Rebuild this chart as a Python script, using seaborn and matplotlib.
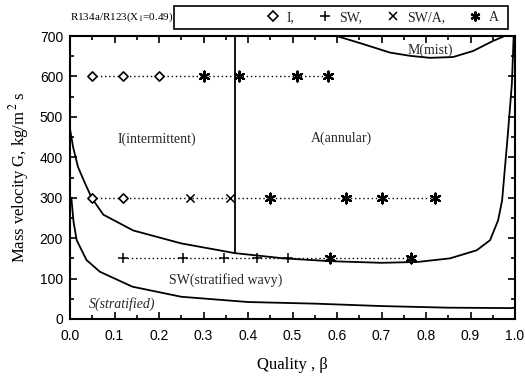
import numpy as np
import pandas as pd
import matplotlib
matplotlib.use("Agg")
import matplotlib.pyplot as plt
from matplotlib.lines import Line2D
from matplotlib.patches import Rectangle
from matplotlib.ticker import MultipleLocator
import seaborn as sns

# ---- boundary curves ----
upper_x = [0.0, 0.007, 0.018, 0.034, 0.049, 0.075, 0.142, 0.25, 0.37, 0.48, 0.585,
           0.70, 0.78, 0.854, 0.914, 0.944, 0.962, 0.971, 0.984, 0.993, 0.997]
upper_g = [470, 425, 376, 335, 299, 258, 219, 187, 163, 150, 143,
           139, 141, 150, 170, 195, 244, 293, 458, 582, 700]

lower_x = [0.003, 0.008, 0.015, 0.037, 0.067, 0.14, 0.25, 0.40, 0.55, 0.70, 0.85, 0.99, 1.0]
lower_g = [300, 240, 195, 146, 117, 80, 55, 42, 38, 32, 28, 27, 28]

mist_x = [0.599, 0.659, 0.719, 0.764, 0.809, 0.861, 0.906, 0.951, 0.977]
mist_g = [700, 680, 659, 651, 646, 648, 663, 688, 700]

divider_x = [0.37, 0.37]
divider_g = [163, 700]

# ---- observed flow patterns ----
g600_x = [0.05, 0.12, 0.20, 0.30, 0.38, 0.51, 0.58]
g600_regime = ["I", "I", "I", "A", "A", "A", "A"]
g300_x = [0.05, 0.12, 0.27, 0.36, 0.45, 0.62, 0.70, 0.82]
g300_regime = ["I", "I", "SW/A", "SW/A", "A", "A", "A", "A"]
g150_x = [0.12, 0.255, 0.346, 0.42, 0.49, 0.585, 0.766]
g150_regime = ["SW", "SW", "SW", "SW", "SW", "A", "A"]

x_ticks = [0.0, 0.1, 0.2, 0.3, 0.4, 0.5, 0.6, 0.7, 0.8, 0.9, 1.0]
y_ticks = [0, 100, 200, 300, 400, 500, 600, 700]

regime_order = ["I", "SW", "SW/A", "A"]
regime_labels = ["I,", "SW,", "SW/A,", "A"]

sns.set_theme(style="ticks")
serif = ["Liberation Serif", "DejaVu Serif"]
sans = ["Liberation Sans", "DejaVu Sans"]
plt.rcParams["font.family"] = serif
plt.rcParams["mathtext.fontset"] = "stix"

fig = plt.figure(figsize=(5.25, 3.77), dpi=100)
ax = fig.add_axes([70 / 525, 1 - 319 / 377, 445 / 525, 283 / 377])

curves = pd.concat([
    pd.DataFrame({"x": upper_x, "G": upper_g, "c": "upper"}),
    pd.DataFrame({"x": lower_x, "G": lower_g, "c": "lower"}),
    pd.DataFrame({"x": mist_x, "G": mist_g, "c": "mist"}),
])
for name, sub in curves.groupby("c"):
    sns.lineplot(data=sub, x="x", y="G", sort=False, estimator=None, color="black",
                 lw=1.3, ax=ax, legend=False)
sns.lineplot(x=divider_x, y=divider_g, sort=False, estimator=None, color="black",
             lw=1.3, ax=ax, legend=False)

points = pd.concat([
    pd.DataFrame({"x": g600_x, "G": 600, "regime": g600_regime}),
    pd.DataFrame({"x": g300_x, "G": 300, "regime": g300_regime}),
    pd.DataFrame({"x": g150_x, "G": 150, "regime": g150_regime}),
])
for gval, sub in points.groupby("G"):
    sns.lineplot(data=sub, x="x", y="G", sort=True, estimator=None, color="black",
                 lw=1.0, linestyle=(0, (1, 2)), ax=ax, legend=False)

marker_style = {
    "I": dict(marker="D", s=22, facecolors="white", edgecolors="black", linewidths=1.2),
    "SW": dict(marker="+", s=45, color="black", linewidths=1.1),
    "SW/A": dict(marker="x", s=35, color="black", linewidths=1.1),
    "A": dict(marker=(6, 2, 0), s=50, color="black", linewidths=1.6),
}
for reg in regime_order:
    sub = points[points["regime"] == reg]
    sns.scatterplot(data=sub, x="x", y="G", ax=ax, legend=False, zorder=5,
                    **marker_style[reg])

# region labels
ax.text(0.195, 444, "I(intermittent)", ha="center", va="center", fontsize=10)
ax.text(0.61, 446, "A(annular)", ha="center", va="center", fontsize=10)
ax.text(0.35, 96, "SW(stratified wavy)", ha="center", va="center", fontsize=10)
ax.text(0.117, 37, "S(stratified)", ha="center", va="center", fontsize=10, style="italic")
ax.text(0.81, 664, "M(mist)", ha="center", va="center", fontsize=10)

ax.set_xlim(0, 1.0)
ax.set_ylim(0, 700)
ax.set_xticks(x_ticks)
ax.set_xticklabels([f"{v:.1f}" for v in x_ticks], fontfamily=sans, fontsize=10)
ax.set_yticks(y_ticks)
ax.set_yticklabels([str(v) for v in y_ticks], fontfamily=sans, fontsize=10)
ax.xaxis.set_minor_locator(MultipleLocator(0.05))
ax.yaxis.set_minor_locator(MultipleLocator(50))
ax.tick_params(which="both", direction="in", top=True, right=True, color="black",
               width=1.2, labelcolor="black")
ax.tick_params(which="major", length=5)
ax.tick_params(which="minor", length=3)
ax.tick_params(axis="x", which="major", pad=7)
ax.tick_params(axis="y", which="major", pad=5)
for sp in ax.spines.values():
    sp.set_linewidth(1.5)
    sp.set_color("black")

ax.set_xlabel("Quality , β", fontsize=12, labelpad=10, color="black")
ax.set_ylabel("Mass velocity G, kg/m$^{\\,2}$ s", fontsize=12, labelpad=6, color="black")

# header text and legend box
fig.text(70 / 525, 1 - 17 / 377, "R134a/R123(X$_{1}$=0.49)", fontsize=8,
         ha="left", va="center", color="black")
fig.patches.append(Rectangle((174 / 525, 1 - 29 / 377), 334 / 525, 23 / 377,
                             transform=fig.transFigure, fill=False,
                             edgecolor="black", linewidth=1.2))
handles = [
    Line2D([], [], ls="none", marker="D", markersize=5, mfc="white", mec="black", mew=1.2),
    Line2D([], [], ls="none", marker="+", markersize=7, color="black", mew=1.1),
    Line2D([], [], ls="none", marker="x", markersize=6, color="black", mew=1.1),
    Line2D([], [], ls="none", marker=(6, 2, 0), markersize=7, color="black", mew=1.6),
]
leg = fig.legend(handles, regime_labels, ncol=4,
                 bbox_to_anchor=(382 / 525, 1 - 17.5 / 377),
                 loc="center", frameon=False, fontsize=10,
                 handletextpad=0.4, handlelength=1.2, columnspacing=1.6,
                 borderaxespad=0, borderpad=0)

fig.savefig("out.png", dpi=100, facecolor="white")
